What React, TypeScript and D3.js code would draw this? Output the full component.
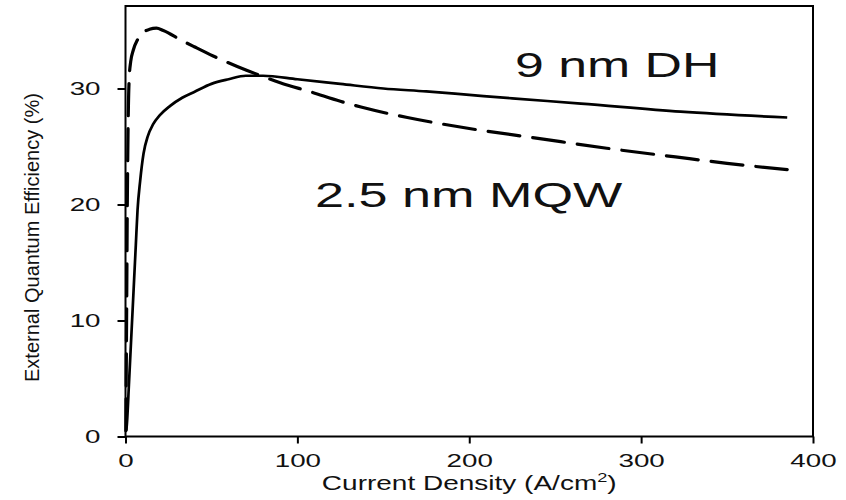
import { useEffect, useRef } from 'react';
import * as d3 from 'd3';

// ── Axes ────────────────────────────────────────────────────────────────────
const X_TICKS = [0, 100, 200, 300, 400];
const Y_TICKS = [0, 10, 20, 30];

// ── 9 nm DH (solid) ─────────────────────────────────────────────────────────
const DH_J = [0.5, 1, 2, 3, 4, 5, 6, 7, 8.5, 10.5, 13, 16, 20, 26, 33, 40, 50, 60, 70, 80, 100, 125, 150, 175, 200, 225, 265, 323, 385];
const DH_EQE = [0.5, 1.5, 4.5, 7.5, 10.5, 13.5, 16.5, 19.5, 22, 24.4, 25.9, 26.9, 27.7, 28.5, 29.2, 29.7, 30.4, 30.8, 31.1, 31.1, 30.8, 30.4, 30.0, 29.75, 29.45, 29.15, 28.7, 28.0, 27.5];

// ── 2.5 nm MQW (dashed) ─────────────────────────────────────────────────────
const MQW_J = [0.2, 0.5, 0.8, 1, 1.3, 1.7, 2.2, 3, 4.5, 7, 10, 14, 18, 22, 32, 40, 51, 65, 77, 90, 108, 125, 137, 164, 200, 240, 280, 320, 350, 385];
const MQW_EQE = [0.5, 7, 14, 19, 24, 28.5, 31, 32.3, 33.3, 34.2, 34.8, 35.1, 35.2, 35.0, 34.2, 33.6, 32.8, 31.9, 31.2, 30.5, 29.7, 28.9, 28.4, 27.5, 26.55, 25.7, 24.85, 24.1, 23.55, 23.0];

const LABEL_DH = '9 nm DH';
const LABEL_MQW = '2.5 nm MQW';

const W = 846, H = 500;
const FONT = '"Liberation Sans", Arial, sans-serif';
const SX = 1.5; // the figure is stretched sideways

export default function App() {
  const svgRef = useRef<SVGSVGElement | null>(null);

  useEffect(() => {
    if (!svgRef.current) return;
    const svg = d3.select(svgRef.current);
    svg.selectAll('*').remove();

    const left = 125.5, right = 813, top = 6, bottom = 436.5;
    const x = d3.scaleLinear().domain([0, 400]).range([left, right]);
    const y = d3.scaleLinear().domain([0, 30]).range([bottom, bottom - 30 * 11.6]);

    svg.append('rect').attr('width', W).attr('height', H).attr('fill', '#fff');

    // Frame
    svg.append('rect')
      .attr('x', left).attr('y', top)
      .attr('width', right - left).attr('height', bottom - top)
      .attr('fill', 'none').attr('stroke', '#000').attr('stroke-width', 2);

    // Axes
    svg.append('g').attr('transform', `translate(0,${bottom})`)
      .call(d3.axisBottom(x).tickValues(X_TICKS).tickSize(7).tickPadding(11).tickFormat(d3.format('d')))
      .call(ax => ax.select('.domain').remove())
      .call(ax => ax.selectAll('line').attr('stroke', '#000').attr('stroke-width', 2))
      .call(ax => ax.selectAll('text')
        .attr('fill', '#111').style('font-family', FONT).style('font-size', '18.5px')
        .attr('transform', `scale(${SX},1)`).attr('y', 17.5));

    svg.append('g').attr('transform', `translate(${left},0)`)
      .call(d3.axisLeft(y).tickValues(Y_TICKS).tickSize(8).tickPadding(17).tickFormat(d3.format('d')))
      .call(ax => ax.select('.domain').remove())
      .call(ax => ax.selectAll('line').attr('stroke', '#000').attr('stroke-width', 2))
      .call(ax => ax.selectAll('text')
        .attr('fill', '#111').style('font-family', FONT).style('font-size', '18.5px')
        .attr('x', -25 / SX).attr('transform', `scale(${SX},1)`));

    // Axis titles
    const xt = svg.append('text')
      .attr('transform', `translate(${(left + right) / 2},490) scale(1.4,1)`)
      .attr('text-anchor', 'middle').attr('fill', '#111')
      .style('font-family', FONT).style('font-size', '20px');
    xt.append('tspan').text('Current Density (A/cm');
    xt.append('tspan').attr('dy', -8).style('font-size', '13px').text('2');
    xt.append('tspan').attr('dy', 8).text(')');

    svg.append('text')
      .attr('transform', `translate(39,237.5) rotate(-90)`)
      .attr('text-anchor', 'middle').attr('fill', '#111')
      .attr('textLength', 289).attr('lengthAdjust', 'spacingAndGlyphs')
      .style('font-family', FONT).style('font-size', '21px')
      .text('External Quantum Efficiency (%)');

    // Curves
    const line = d3.line<[number, number]>()
      .x(d => x(d[0])).y(d => y(d[1]))
      .curve(d3.curveMonotoneX);

    const dh = DH_J.map((j, i) => [j, DH_EQE[i]] as [number, number]);
    const mqw = MQW_J.map((j, i) => [j, MQW_EQE[i]] as [number, number]);

    svg.append('path').attr('d', line(dh))
      .attr('fill', 'none').attr('stroke', '#000').attr('stroke-width', 2.7)
      .attr('stroke-linejoin', 'round');

    svg.append('path').attr('d', line(mqw))
      .attr('fill', 'none').attr('stroke', '#000').attr('stroke-width', 3.2)
      .attr('stroke-dasharray', '32,13').attr('stroke-linecap', 'round');

    // Curve labels
    svg.append('text')
      .attr('transform', `translate(515,77) scale(1.44,1)`)
      .attr('fill', '#111').style('font-family', FONT).style('font-size', '36px')
      .text(LABEL_DH);

    svg.append('text')
      .attr('transform', `translate(315,207) scale(1.45,1)`)
      .attr('fill', '#111').style('font-family', FONT).style('font-size', '36px')
      .text(LABEL_MQW);
  }, []);

  return (
    <svg ref={svgRef} width={W} height={H} viewBox={`0 0 ${W} ${H}`}
      style={{ position: 'fixed', left: 0, top: 0, display: 'block' }} />
  );
}
